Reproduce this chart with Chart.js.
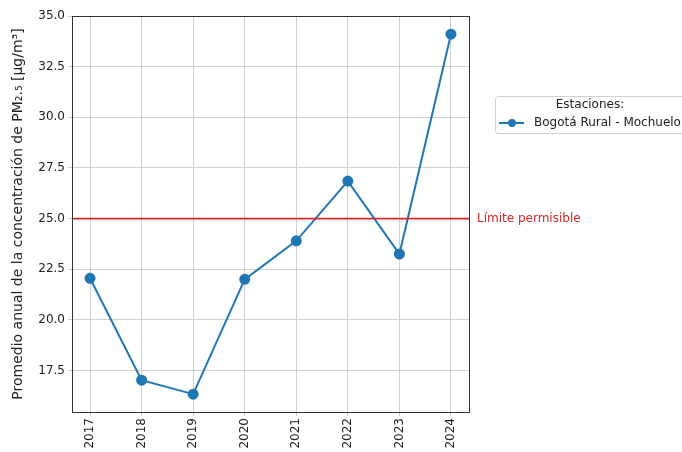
<!DOCTYPE html>
<html>
<head>
<meta charset="utf-8">
<script src="https://cdn.jsdelivr.net/npm/chart.js@4/dist/chart.umd.min.js"></script>
<style>
  html, body { margin: 0; padding: 0; background: #fff; }
  #wrap { width: 682px; height: 452px; }
</style>
</head>
<body>
<div id="wrap"><canvas id="pmChart" width="682" height="452"></canvas></div>
<script>
const years = [2017, 2018, 2019, 2020, 2021, 2022, 2023, 2024];
const mochuelo = [22.05, 17.02, 16.33, 22.0, 23.9, 26.85, 23.25, 34.1];
const yTicks = [17.5, 20.0, 22.5, 25.0, 27.5, 30.0, 32.5, 35.0];
const limite = 25;
const seriesLabel = 'Bogotá Rural - Mochuelo';
const legendTitle = 'Estaciones:';
const limiteLabel = 'Límite permisible';

const FONT = 'DejaVu Sans';
const blue = '#1f77b4';
const red = '#d62728';

// red horizontal line + its label, axes box, and the legend outside the axes
const extras = {
    id: 'extras',
    afterDatasetsDraw(chart) {
        const ctx = chart.ctx;
        const area = chart.chartArea;
        const y = chart.scales.y.getPixelForValue(limite);
        ctx.save();
        ctx.strokeStyle = red;
        ctx.lineWidth = 1.8;
        ctx.beginPath();
        ctx.moveTo(area.left, y);
        ctx.lineTo(area.right, y);
        ctx.stroke();
        ctx.fillStyle = red;
        ctx.font = '12px "' + FONT + '"';
        ctx.textBaseline = 'middle';
        ctx.fillText(limiteLabel, area.right + 8, y);
        // axes box
        ctx.strokeStyle = '#333';
        ctx.lineWidth = 1;
        ctx.strokeRect(Math.round(area.left) + 0.5, Math.round(area.top) + 0.5,
            Math.round(area.right - area.left), Math.round(area.bottom - area.top));
        ctx.restore();
    },
    afterDraw(chart) {
        const ctx = chart.ctx;
        ctx.save();
        const bx = 495, by = 96, bw = 200, bh = 37;
        ctx.fillStyle = '#fff';
        ctx.strokeStyle = '#d0d0d0';
        ctx.lineWidth = 1;
        ctx.beginPath();
        ctx.roundRect(bx + 0.5, by + 0.5, bw, bh, 3);
        ctx.fill();
        ctx.stroke();
        ctx.fillStyle = '#222';
        ctx.font = '12px "' + FONT + '"';
        ctx.textBaseline = 'middle';
        ctx.textAlign = 'center';
        ctx.fillText(legendTitle, 590, 105);
        ctx.textAlign = 'left';
        ctx.strokeStyle = blue;
        ctx.lineWidth = 2;
        ctx.beginPath();
        ctx.moveTo(499, 123);
        ctx.lineTo(524, 123);
        ctx.stroke();
        ctx.fillStyle = blue;
        ctx.beginPath();
        ctx.arc(512, 123, 4, 0, Math.PI * 2);
        ctx.fill();
        ctx.fillStyle = '#222';
        ctx.fillText(seriesLabel, 534, 123);
        ctx.restore();
    }
};

new Chart(document.getElementById('pmChart'), {
    type: 'line',
    data: {
        datasets: [{
            label: seriesLabel,
            data: years.map((yr, i) => ({ x: yr, y: mochuelo[i] })),
            borderColor: blue,
            backgroundColor: blue,
            borderWidth: 2,
            pointRadius: 4.5,
            pointHoverRadius: 4.5,
            tension: 0
        }]
    },
    options: {
        responsive: false,
        animation: false,
        events: [],
        layout: { padding: { top: 16, right: 213, left: 10, bottom: 0 } },
        plugins: {
            legend: { display: false },
            tooltip: { enabled: false }
        },
        scales: {
            x: {
                type: 'linear',
                min: 2016.65,
                max: 2024.35,
                afterBuildTicks: s => { s.ticks = years.map(v => ({ value: v })); },
                afterFit: s => { s.height = 40; },
                border: { color: '#333', width: 1 },
                grid: { color: '#d0d0d0', lineWidth: 1, tickLength: 4 },
                ticks: {
                    color: '#222',
                    font: { family: FONT, size: 12 },
                    minRotation: 90,
                    maxRotation: 90,
                    padding: 2,
                    callback: v => String(v)
                }
            },
            y: {
                min: 15.45,
                max: 35.0,
                afterBuildTicks: s => { s.ticks = yTicks.map(v => ({ value: v })); },
                afterFit: s => { s.width = 62; },
                border: { color: '#333', width: 1 },
                grid: { color: '#d0d0d0', lineWidth: 1, tickLength: 4 },
                ticks: {
                    color: '#222',
                    font: { family: FONT, size: 12 },
                    padding: 3,
                    callback: v => v.toFixed(1)
                },
                title: {
                    display: true,
                    text: 'Promedio anual de la concentración de PM₂.₅ [μg/m³]',
                    color: '#222',
                    font: { family: FONT, size: 14 },
                    padding: { top: 0, bottom: 4 }
                }
            }
        }
    },
    plugins: [extras]
});
</script>
</body>
</html>
